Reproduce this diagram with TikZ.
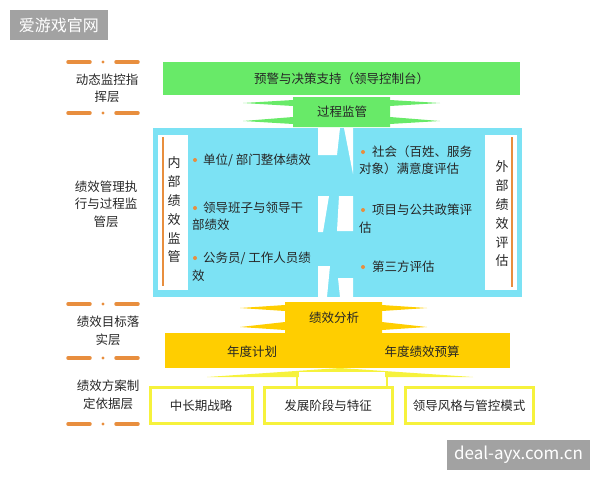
\documentclass[tikz,border=0pt]{standalone}
\usepackage{fontspec}
\setmainfont{Noto Sans CJK SC}
\usepackage{tikz}
\usetikzlibrary{positioning}

\definecolor{topgreen}{RGB}{104,234,104}
\definecolor{cyanbox}{RGB}{124,226,244}
\definecolor{gold}{RGB}{255,206,0}
\definecolor{boxyellow}{RGB}{246,242,60}
\definecolor{dashorange}{RGB}{232,142,62}
\definecolor{wmgray}{RGB}{162,162,162}
\definecolor{txtgray}{RGB}{38,38,38}

\begin{document}
\begin{tikzpicture}[x=1pt,y=-1pt,
    every node/.style={text=txtgray,inner sep=0pt,font=\fontsize{12.5}{17}\selectfont},
    layerlbl/.style={align=center,font=\fontsize{12.5}{17.5}\selectfont},
    vlbl/.style={align=center,font=\fontsize{13}{18.8}\selectfont},
    item/.style={anchor=west},
    basebox/.style={draw=boxyellow,line width=3pt,fill=white,minimum height=36pt},
    orangedash/.style={dashorange,line width=3.5pt,line cap=round},
    watermark/.style={fill=wmgray,text=white,minimum height=30pt}]

    \useasboundingbox (0,0) rectangle (600,480);

    % watermarks
    \node[watermark,minimum width=98pt,font=\fontsize{16}{16}\selectfont] (wmtop) at (59,25) {爱游戏官网};
    \node[watermark,minimum width=143pt,font=\fontsize{17}{17}\selectfont] (wmbottom) at (518.5,455) {deal-ayx.com.cn};

    % orange dashes beside the layer labels
    \draw[orangedash] (68,62) -- (90,62);
    \fill[dashorange] (103,62) circle (1.6pt);
    \draw[orangedash] (116,62) -- (138,62);
    \draw[orangedash] (68,113) -- (90,113);
    \fill[dashorange] (103,113) circle (1.6pt);
    \draw[orangedash] (116,113) -- (138,113);
    \draw[orangedash] (68,304) -- (90,304);
    \fill[dashorange] (103,304) circle (1.6pt);
    \draw[orangedash] (116,304) -- (138,304);
    \draw[orangedash] (68,358) -- (90,358);
    \fill[dashorange] (103,358) circle (1.6pt);
    \draw[orangedash] (116,358) -- (138,358);
    \draw[orangedash] (68,424) -- (90,424);
    \fill[dashorange] (103,424) circle (1.6pt);
    \draw[orangedash] (116,424) -- (138,424);

    % layer labels
    \node[layerlbl] (lyrmonitor) at (107,88.5) {动态监控指\\挥层};
    \node[layerlbl] (lyrexec) at (106,204) {绩效管理执\\行与过程监\\管层};
    \node[layerlbl] (lyrgoal) at (108,331) {绩效目标落\\实层};
    \node[layerlbl] (lyrbasis) at (108,395) {绩效方案制\\定依据层};

    % top green bar
    \node[fill=topgreen,minimum width=357pt,minimum height=33pt] (console) at (341.5,78.5) {预警与决策支持（领导控制台）};

    % process supervision arrow
    \fill[topgreen] (293,97) -- (390,97) -- (390,100) -- (440,103) -- (390,106) -- (390,117)
        -- (440,121) -- (390,124) -- (390,127) -- (293,127) -- (293,124) -- (243,121)
        -- (293,117) -- (293,106) -- (243,103) -- (293,100) -- cycle;
    \node (procsup) at (342,112) {过程监管};

    % cyan execution area
    \fill[cyanbox] (153,128) rectangle (522,297);
    \fill[white] (318,128) -- (340,128) -- (337,155) -- (318,155) -- cycle;
    \fill[white] (344,128) -- (353,128) -- (353,174) -- cycle;
    \fill[white] (318,196) -- (329,196) -- (323,232) -- (318,232) -- cycle;
    \fill[white] (339,196) -- (353,196) -- (353,231) -- (337,231) -- cycle;
    \fill[white] (318,266) -- (330,266) -- (327,297) -- (318,297) -- cycle;
    \fill[white] (338,278) -- (353,278) -- (353,297) -- (340,297) -- cycle;
    \fill[white] (330,297) -- (338,297) -- (332,304) -- cycle;

    % internal / external side labels
    \fill[white] (158,135) rectangle (188,290);
    \draw[dashorange,line width=1.6pt] (163,137) -- (163,286);
    \node[vlbl] (internal) at (174,210) {内\\部\\绩\\效\\监\\管};
    \fill[white] (485,135) rectangle (517,290);
    \draw[dashorange,line width=1.6pt] (512,137) -- (512,287);
    \node[vlbl] (external) at (502,214) {外\\部\\绩\\效\\评\\估};

    % internal items
    \fill[dashorange] (195,160) circle (2pt);
    \node[item] (inone) at (203,160) {单位/ 部门整体绩效};
    \fill[dashorange] (195,208) circle (2pt);
    \node[item] (intwoa) at (203,208) {领导班子与领导干};
    \node[item] (intwob) at (192,225) {部绩效};
    \fill[dashorange] (195,258) circle (2pt);
    \node[item] (inthreea) at (203,258) {公务员/ 工作人员绩};
    \node[item] (inthreeb) at (192,276) {效};

    % external items
    \fill[dashorange] (363,152) circle (2pt);
    \node[item] (exonea) at (372,152) {社会（百姓、服务};
    \node[item] (exoneb) at (359,169) {对象）满意度评估};
    \fill[dashorange] (363,210) circle (2pt);
    \node[item] (extwoa) at (372,210) {项目与公共政策评};
    \node[item] (extwob) at (359,228) {估};
    \fill[dashorange] (363,267) circle (2pt);
    \node[item] (exthree) at (372,267) {第三方评估};

    % performance analysis arrow
    \fill[gold] (285,302) -- (382,302) -- (382,305) -- (427,308) -- (382,311) -- (382,322)
        -- (427,327) -- (382,330) -- (382,334) -- (285,334) -- (285,330) -- (240,327)
        -- (285,322) -- (285,311) -- (240,308) -- (285,305) -- cycle;
    \node (analysis) at (334,318) {绩效分析};

    % annual plan block
    \fill[gold] (165,333) rectangle (510,368);
    \node (annualplan) at (252,352) {年度计划};
    \node (annualbudget) at (422,352) {年度绩效预算};

    % link from the basis boxes
    \fill[boxyellow] (207,377) -- (340,368) -- (473,377) -- cycle;
    \fill[white] (299,372) rectangle (385,388);
    \draw[boxyellow,line width=2.5pt] (297,373) -- (297,388);
    \draw[boxyellow,line width=2.5pt] (387,373) -- (387,388);

    % basis boxes
    \node[basebox,minimum width=102pt] (strategy) at (201,405.5) {中长期战略};
    \node[basebox,minimum width=128pt] (stage) at (328,405.5) {发展阶段与特征};
    \node[basebox,minimum width=128pt] (style) at (469,405.5) {领导风格与管控模式};
\end{tikzpicture}
\end{document}
